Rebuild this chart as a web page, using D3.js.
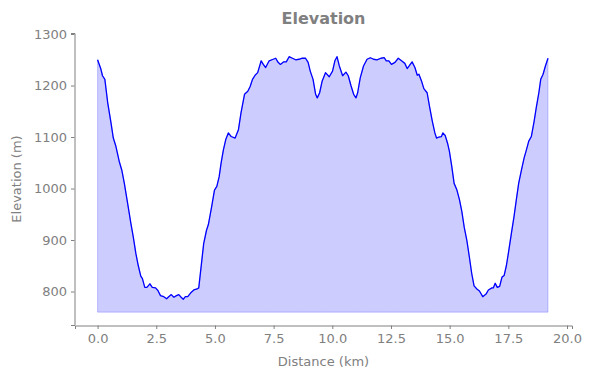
<!DOCTYPE html>
<html>
<head>
<meta charset="utf-8">
<script src="https://cdn.jsdelivr.net/npm/d3@7"></script>
<style>
	body { margin: 0; background: #fff; }
	svg text { font-family: "DejaVu Sans", sans-serif; fill: #808080; }
</style>
</head>
<body>
<div id="chart"></div>
<script>
// distance along the route (km) and elevation (m)
const distance = [
	0.00, 0.14, 0.21, 0.31, 0.43, 0.57, 0.67, 0.78, 0.92, 1.03, 1.14, 1.28, 1.42, 1.52, 1.63,
	1.73, 1.84, 1.91, 2.01, 2.10, 2.23, 2.33, 2.47, 2.57, 2.68, 2.82, 2.94, 3.03, 3.14, 3.25,
	3.36, 3.46, 3.56, 3.65, 3.74, 3.84, 3.96, 4.10, 4.24, 4.31, 4.41, 4.52, 4.64, 4.72, 4.86,
	4.98, 5.08, 5.18, 5.26, 5.36, 5.46, 5.57, 5.69, 5.86, 6.00, 6.11, 6.26, 6.40, 6.50, 6.60,
	6.71, 6.82, 6.97, 7.06, 7.16, 7.31, 7.48, 7.59, 7.69, 7.79, 7.93, 8.04, 8.16, 8.30, 8.44,
	8.58, 8.72, 8.86, 8.97, 9.06, 9.18, 9.29, 9.36, 9.46, 9.57, 9.71, 9.87, 10.01, 10.11, 10.20,
	10.30, 10.44, 10.58, 10.68, 10.80, 10.91, 11.01, 11.08, 11.19, 11.33, 11.48, 11.62, 11.76, 11.90, 12.07,
	12.21, 12.30, 12.41, 12.52, 12.67, 12.81, 12.95, 13.09, 13.19, 13.29, 13.40, 13.52, 13.62, 13.69, 13.80,
	13.90, 14.04, 14.14, 14.26, 14.37, 14.44, 14.54, 14.65, 14.71, 14.81, 14.91, 14.99, 15.09, 15.19, 15.31,
	15.42, 15.52, 15.62, 15.73, 15.84, 15.94, 16.04, 16.16, 16.27, 16.41, 16.55, 16.65, 16.80, 16.86, 16.94,
	17.03, 17.13, 17.23, 17.32, 17.42, 17.52, 17.63, 17.74, 17.84, 17.94, 18.06, 18.17, 18.27, 18.37, 18.48,
	18.60, 18.69, 18.80, 18.88, 18.98, 19.08, 19.19
];
const elevation = [
	1250, 1232, 1219, 1212, 1167, 1128, 1098, 1082, 1053, 1036, 1010, 971, 932, 906, 874,
	851, 830, 825, 808, 808, 815, 808, 807, 802, 792, 790, 786, 790, 794, 789,
	792, 794, 789, 785, 790, 790, 797, 803, 805, 807, 848, 893, 919, 930, 965,
	997, 1004, 1023, 1049, 1075, 1095, 1108, 1101, 1098, 1114, 1147, 1183, 1189, 1198, 1212,
	1220, 1225, 1248, 1241, 1235, 1248, 1251, 1253, 1245, 1241, 1246, 1246, 1256, 1253, 1250,
	1251, 1253, 1253, 1245, 1228, 1212, 1183, 1176, 1186, 1209, 1225, 1217, 1228, 1248, 1256,
	1238, 1219, 1226, 1219, 1199, 1183, 1176, 1186, 1215, 1238, 1251, 1254, 1251, 1250, 1253,
	1254, 1248, 1248, 1241, 1245, 1253, 1248, 1243, 1233, 1239, 1246, 1235, 1220, 1222, 1209,
	1194, 1186, 1160, 1131, 1108, 1098, 1100, 1101, 1108, 1103, 1088, 1072, 1043, 1010, 997,
	978, 955, 925, 900, 867, 835, 811, 805, 801, 790, 795, 803, 807, 807, 816,
	808, 810, 828, 831, 851, 880, 913, 945, 978, 1010, 1036, 1059, 1075, 1092, 1101,
	1131, 1157, 1186, 1212, 1222, 1238, 1253
];
const baseElevation = 760;
const xTicks = [0, 2.5, 5, 7.5, 10, 12.5, 15, 17.5, 20];
const yTicks = [800, 900, 1000, 1100, 1200, 1300];

const width = 591, height = 378;
const margin = { top: 33, right: 19, bottom: 53, left: 75 };
const gray = "#808080";

const points = distance.map((d, i) => ({ d, e: elevation[i] }));

const svg = d3.select("#chart").append("svg")
	.attr("width", width)
	.attr("height", height);

const x = d3.scaleLinear()
	.domain([-0.9625, 20.2125])
	.range([margin.left, width - margin.right]);
const y = d3.scaleLinear()
	.domain([735, 1302])
	.range([height - margin.bottom, margin.top]);

// shaded area under the profile
svg.append("path")
	.datum(points)
	.attr("d", d3.area().x(p => x(p.d)).y0(y(baseElevation)).y1(p => y(p.e)))
	.attr("fill", "rgba(0,0,255,0.2)")
	.attr("stroke", "rgba(0,0,255,0.2)")
	.attr("stroke-width", 1);

// profile line
svg.append("path")
	.datum(points)
	.attr("d", d3.line().x(p => x(p.d)).y(p => y(p.e)))
	.attr("fill", "none")
	.attr("stroke", "#0000ff")
	.attr("stroke-width", 1.3)
	.attr("stroke-linejoin", "round");

// axes
const xAxis = svg.append("g")
	.attr("transform", `translate(0,${height - margin.bottom + 0.5})`)
	.call(d3.axisBottom(x).tickValues(xTicks).tickFormat(d3.format(".1f")).tickSizeOuter(0).tickSize(3.5).tickPadding(5));
const yAxis = svg.append("g")
	.attr("transform", `translate(${margin.left - 0.5},0)`)
	.call(d3.axisLeft(y).tickValues(yTicks).tickFormat(d3.format("d")).tickSizeOuter(0).tickSize(3.5).tickPadding(4));

[xAxis, yAxis].forEach(ax => {
	ax.select(".domain").attr("stroke", gray).attr("stroke-width", 1);
	ax.selectAll(".tick line").attr("stroke", gray);
	ax.selectAll(".tick text").attr("fill", gray).style("font-size", "13px");
});

// titles
svg.append("text")
	.attr("x", (margin.left + width - margin.right) / 2)
	.attr("y", 24)
	.attr("text-anchor", "middle")
	.style("font-size", "16px")
	.style("font-weight", "bold")
	.text("Elevation");

svg.append("text")
	.attr("x", (margin.left + width - margin.right) / 2)
	.attr("y", 366)
	.attr("text-anchor", "middle")
	.style("font-size", "13px")
	.text("Distance (km)");

svg.append("text")
	.attr("transform", `translate(21,${(margin.top + height - margin.bottom) / 2}) rotate(-90)`)
	.attr("text-anchor", "middle")
	.style("font-size", "13px")
	.text("Elevation (m)");
</script>
</body>
</html>
